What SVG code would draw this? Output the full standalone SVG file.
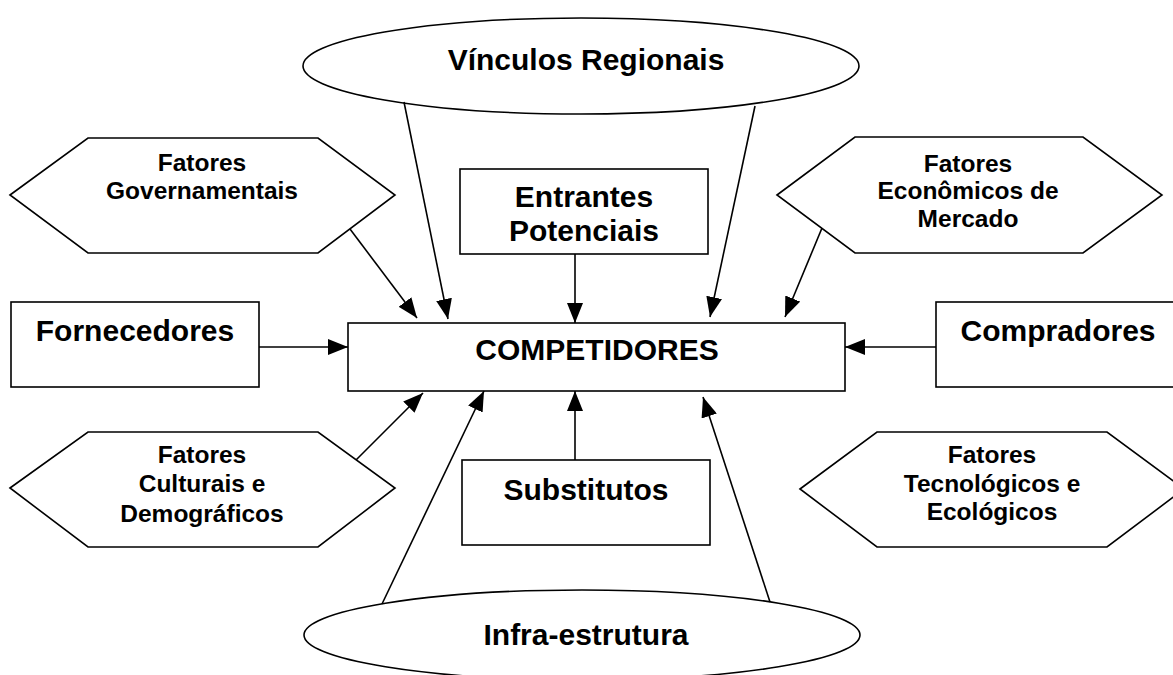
<svg xmlns="http://www.w3.org/2000/svg" width="1173" height="675" viewBox="0 0 1173 675">
<defs>
<style>
.s{fill:#fff;stroke:#000;stroke-width:1.6}
.c line{stroke:#000;stroke-width:1.6;marker-end:url(#ah)}
text{font-family:"Liberation Sans",Arial,sans-serif;font-weight:bold;fill:#000;text-anchor:middle}
.b{font-size:30px}
.m{font-size:24.5px}
</style>
<marker id="ah" markerUnits="userSpaceOnUse" markerWidth="20" markerHeight="16" refX="20" refY="8" orient="auto">
<path d="M0,0 L20,8 L0,16 z" fill="#000"/>
</marker>
</defs>
<rect width="1173" height="675" fill="#fff"/>
<g id="vinculos">
<ellipse class="s" cx="581" cy="66" rx="278" ry="48"/>
<text class="b" x="586" y="70">Vínculos Regionais</text>
</g>
<g id="infra">
<ellipse class="s" cx="582" cy="635" rx="278" ry="45"/>
<text class="b" x="586" y="645">Infra-estrutura</text>
</g>
<g id="governamentais">
<polygon class="s" points="10,195 88,138 318,138 395,195 318,253 88,253"/>
<text class="m" x="202" y="171">Fatores</text>
<text class="m" x="202" y="199">Governamentais</text>
</g>
<g id="economicos">
<polygon class="s" points="777,195 855,137 1083,137 1162,195 1083,253 855,253"/>
<text class="m" x="968" y="172">Fatores</text>
<text class="m" x="968" y="199">Econômicos de</text>
<text class="m" x="968" y="227">Mercado</text>
</g>
<g id="culturais">
<polygon class="s" points="10,488 88,432 318,432 395,488 318,547 88,547"/>
<text class="m" x="202" y="463">Fatores</text>
<text class="m" x="202" y="492">Culturais e</text>
<text class="m" x="202" y="522">Demográficos</text>
</g>
<g id="tecnologicos">
<polygon class="s" points="800,489 877,432 1107,432 1184,489 1107,547 877,547"/>
<text class="m" x="992" y="463">Fatores</text>
<text class="m" x="992" y="492">Tecnológicos e</text>
<text class="m" x="992" y="520">Ecológicos</text>
</g>
<g id="fornecedores">
<rect class="s" x="11" y="302" width="248" height="85"/>
<text class="b" x="135" y="341">Fornecedores</text>
</g>
<g id="compradores">
<rect class="s" x="936" y="302" width="248" height="85"/>
<text class="b" x="1058" y="341">Compradores</text>
</g>
<g id="entrantes">
<rect class="s" x="460" y="169" width="248" height="85"/>
<text class="b" x="584" y="207">Entrantes</text>
<text class="b" x="584" y="241">Potenciais</text>
</g>
<g id="substitutos">
<rect class="s" x="462" y="460" width="248" height="85"/>
<text class="b" x="586" y="500">Substitutos</text>
</g>
<g id="competidores">
<rect class="s" x="348" y="323" width="497" height="68"/>
<text class="b" x="597" y="360">COMPETIDORES</text>
</g>
<g id="connectors" class="c">
<line x1="259" y1="347" x2="348" y2="347"/>
<line x1="936" y1="347" x2="845" y2="347"/>
<line x1="575" y1="254" x2="575" y2="323"/>
<line x1="575" y1="460" x2="575" y2="391"/>
<line x1="350" y1="229" x2="417" y2="318"/>
<line x1="404" y1="102" x2="448" y2="319"/>
<line x1="755" y1="106" x2="710" y2="317"/>
<line x1="822" y1="228" x2="785" y2="317"/>
<line x1="356" y1="460" x2="423" y2="393"/>
<line x1="382" y1="604" x2="484" y2="391"/>
<line x1="770" y1="602" x2="703" y2="397"/>
</g>
</svg>
